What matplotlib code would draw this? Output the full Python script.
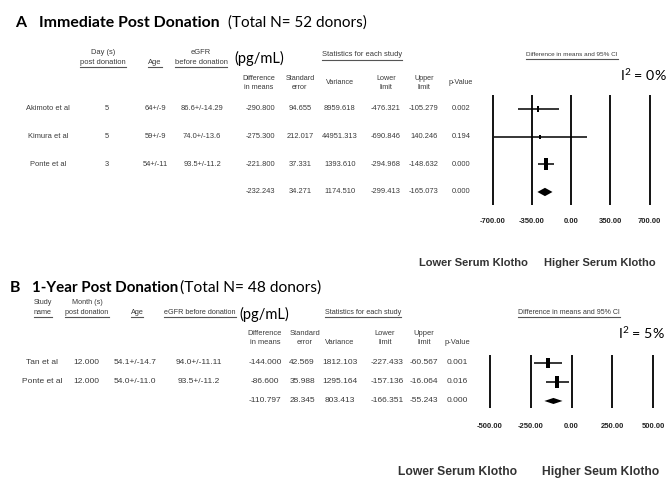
import numpy as np
import matplotlib
matplotlib.use("Agg")
import matplotlib.pyplot as plt
from matplotlib import transforms

# ---- panel A: immediate post donation ----
studies_a = ["Akimoto et al", "Kimura et al", "Ponte et al"]
days_a = ["5", "5", "3"]
age_a = ["64+/-9", "59+/-9", "54+/-11"]
egfr_a = ["86.6+/-14.29", "74.0+/-13.6", "93.5+/-11.2"]
diff_a = [-290.800, -275.300, -221.800]
se_a = [94.655, 212.017, 37.331]
var_a = [8959.618, 44951.313, 1393.610]
lower_a = [-476.321, -690.846, -294.968]
upper_a = [-105.279, 140.246, -148.632]
pval_a = [0.002, 0.194, 0.000]
# pooled: diff, se, variance, lower, upper, p
pooled_a = [-232.243, 34.271, 1174.510, -299.413, -165.073, 0.000]
ticks_a = [-700, -350, 0, 350, 700]

# ---- panel B: 1-year post donation ----
studies_b = ["Tan et al", "Ponte et al"]
months_b = ["12.000", "12.000"]
age_b = ["54.1+/-14.7", "54.0+/-11.0"]
egfr_b = ["94.0+/-11.11", "93.5+/-11.2"]
diff_b = [-144.000, -86.600]
se_b = [42.569, 35.988]
var_b = [1812.103, 1295.164]
lower_b = [-227.433, -157.136]
upper_b = [-60.567, -16.064]
pval_b = [0.001, 0.016]
pooled_b = [-110.797, 28.345, 803.413, -166.351, -55.243, 0.000]
ticks_b = [-500, -250, 0, 250, 500]

W, H = 667, 482
TFONT = "Lato"
SFONT = "Liberation Sans"
plt.rcParams["mathtext.fontset"] = "custom"
plt.rcParams["mathtext.rm"] = TFONT
plt.rcParams["mathtext.it"] = TFONT

fig = plt.figure(figsize=(W / 100, H / 100), dpi=100)
ov = fig.add_axes([0, 0, 1, 1])
ov.set_xlim(0, W)
ov.set_ylim(H, 0)
ov.axis("off")

underlined = []


def txt(x, y, s, size, ul=False, **kw):
    kw.setdefault("family", SFONT)
    kw.setdefault("color", "#3a3a3a")
    kw.setdefault("ha", "center")
    kw.setdefault("va", "center")
    t = ov.text(x, y, s, fontsize=size, **kw)
    if ul:
        underlined.append(t)
    return t


def forest_axes(left, top, right, bottom, ticks, nrows, pad_top, pad_bot, labpad):
    ax = fig.add_axes([left / W, 1 - bottom / H, (right - left) / W, (bottom - top) / H])
    ax.set_xlim(ticks[0], ticks[-1])
    ax.set_ylim(nrows - 1 + pad_bot, -pad_top)
    for s in ax.spines.values():
        s.set_visible(False)
    ax.patch.set_alpha(0)
    ax.set_yticks([])
    ax.set_xticks(ticks)
    ax.set_xticklabels(["%.2f" % t for t in ticks])
    ax.tick_params(axis="x", length=0, pad=labpad, labelsize=5.5, labelcolor="#222222")
    for lab in ax.get_xticklabels():
        lab.set_fontweight("bold")
        lab.set_family(SFONT)
    ax.vlines(ticks, 0, 1, transform=ax.get_xaxis_transform(), color="black",
              lw=1.3, clip_on=False)
    return ax


def forest(ax, diff, lower, upper, var, pooled, dh):
    rows = np.arange(len(diff))
    ax.hlines(rows, lower, upper, color="black", lw=1.1, clip_on=False)
    w = 1 / np.asarray(var)
    ms = 2.5 + 5.5 * np.sqrt(w / w.max())
    rect = [(-0.4, -1), (0.4, -1), (0.4, 1), (-0.4, 1), (-0.4, -1)]
    for r, d, m in zip(rows, diff, ms):
        ax.plot(d, r, marker=rect, ms=m, color="black", mew=0)
    p = len(diff)
    d, lo, up = pooled[0], pooled[3], pooled[4]
    ax.fill([lo, d, up, d], [p, p - dh, p, p + dh], color="black", lw=0)


def rows_text(ax, cols, xs, size):
    tr = transforms.blended_transform_factory(ov.transData, ax.transData)
    for x, col in zip(xs, cols):
        for r, v in enumerate(col):
            ov.text(x, r, v, transform=tr, fontsize=size, family=SFONT,
                    color="#3a3a3a", ha="center", va="center")


def fmt(vals, pooled, k, f="%.3f"):
    return [f % v for v in vals] + [f % pooled[k]]


def klotho(y, x1, x2, s2, size):
    ov.text(x1, y, "Lower Serum Klotho", fontsize=size, family=SFONT,
            weight="bold", color="#333333", va="center")
    ov.text(x2, y, s2, fontsize=size, family=SFONT,
            weight="bold", color="#333333", va="center")


# ================= panel A =================
ov.text(15, 23, "A", fontsize=11.4, family=TFONT, weight="bold", va="center")
ov.text(39, 23, "Immediate Post Donation", fontsize=11.4, family=TFONT, weight="bold", va="center")
ov.text(228, 23, "(Total N= 52 donors)", fontsize=11, family=TFONT, va="center")
ov.text(234, 58, "(pg/mL)", fontsize=10.5, family=TFONT, va="center")

txt(103, 52, "Day (s)", 5.4)
txt(103, 62, "post donation", 5.4, ul=True)
txt(155, 62, "Age", 5.4, ul=True)
txt(201, 52, "eGFR", 5.4)
txt(201, 62, "before donation", 5.4, ul=True)
txt(362, 55, "Statistics for each study", 5.4, ul=True)
txt(572, 55, "Difference in means and 95% CI", 4.6, ul=True)
for x, s in [(259, "Difference\nin means"), (300, "Standard\nerror"),
             (386, "Lower\nlimit"), (424, "Upper\nlimit")]:
    txt(x, 83, s, 5.2, linespacing=1.3)
txt(340, 83, "Variance", 5.2)
txt(461, 83, "p-Value", 5.2)
ov.text(620, 75, "I$^{2}$ = 0%", fontsize=10.3, family=TFONT, va="center")

ax_a = forest_axes(492.5, 95, 649.5, 205, ticks_a, 4, 0.5, 0.47, 9.5)
forest(ax_a, diff_a, lower_a, upper_a, var_a, pooled_a, 0.15)
rows_text(ax_a,
          [studies_a, days_a, age_a, egfr_a,
           fmt(diff_a, pooled_a, 0), fmt(se_a, pooled_a, 1), fmt(var_a, pooled_a, 2),
           fmt(lower_a, pooled_a, 3), fmt(upper_a, pooled_a, 4), fmt(pval_a, pooled_a, 5)],
          [48, 107, 155, 202, 260, 300, 340, 386, 424, 461], 5.4)

klotho(263, 419, 544, "Higher Serum Klotho", 8.0)

# ================= panel B =================
ov.text(10, 288, "B", fontsize=11.4, family=TFONT, weight="bold", va="center")
ov.text(32, 288, "1-Year Post Donation", fontsize=10.9, family=TFONT, weight="bold", va="center")
ov.text(180, 288, "(Total N= 48 donors)", fontsize=11.2, family=TFONT, va="center")
ov.text(239, 314, "(pg/mL)", fontsize=10.5, family=TFONT, va="center")

txt(43, 302, "Study", 5.2)
txt(43, 312, "name", 5.2, ul=True)
txt(87, 302, "Month (s)", 5.2)
txt(87, 312, "post donation", 5.2, ul=True)
txt(137, 312, "Age", 5.2, ul=True)
txt(200, 312, "eGFR before donation", 5.2, ul=True)
txt(363, 312, "Statistics for each study", 5.2, ul=True)
txt(569, 312, "Difference in means and 95% CI", 5.0, ul=True)
for x, s in [(265, "Difference\nin means"), (305, "Standard\nerror"),
             (385, "Lower\nlimit"), (424, "Upper\nlimit")]:
    txt(x, 338, s, 5.4, linespacing=1.3)
txt(340, 343, "Variance", 5.4)
txt(457, 343, "p-Value", 5.4)
ov.text(618, 333, "I$^{2}$ = 5%", fontsize=10.3, family=TFONT, va="center")

ax_b = forest_axes(490, 355, 653, 408, ticks_b, 3, 0.42, 0.37, 11)
forest(ax_b, diff_b, lower_b, upper_b, var_b, pooled_b, 0.16)
rows_text(ax_b,
          [studies_b, months_b, age_b, egfr_b,
           fmt(diff_b, pooled_b, 0), fmt(se_b, pooled_b, 1), fmt(var_b, pooled_b, 2),
           fmt(lower_b, pooled_b, 3), fmt(upper_b, pooled_b, 4), fmt(pval_b, pooled_b, 5)],
          [42, 86, 135, 199, 265, 302, 340, 387, 424, 457], 6.0)

klotho(472, 398, 542, "Higher Seum Klotho", 8.7)

# underline the header captions
fig.canvas.draw()
inv = ov.transData.inverted()
for t in underlined:
    bb = t.get_window_extent()
    (x0, y0), (x1, _) = inv.transform([(bb.x0, bb.y0), (bb.x1, bb.y1)])
    ov.plot([x0, x1], [y0 + 1.5, y0 + 1.5], color="#555555", lw=0.8)

fig.savefig("out.png", dpi=100)
